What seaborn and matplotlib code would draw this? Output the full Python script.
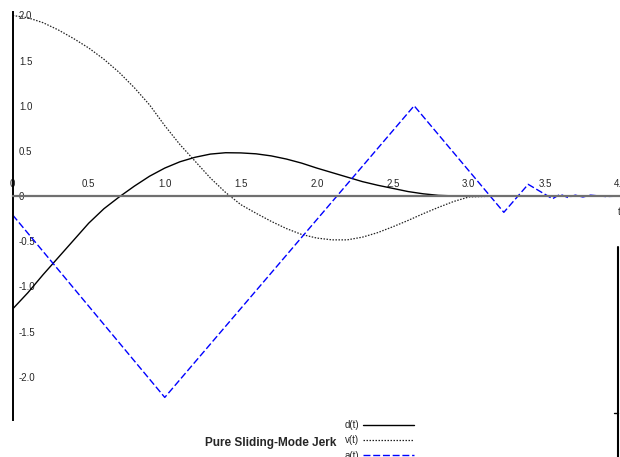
import matplotlib
matplotlib.use("Agg")
import matplotlib.pyplot as plt
import seaborn as sns
from matplotlib.lines import Line2D

# time grid for d(t) and v(t)
t_dv = [0.0, 0.1, 0.2, 0.3, 0.4, 0.5, 0.6, 0.7, 0.8, 0.9,
        1.0, 1.1, 1.2, 1.3, 1.4, 1.5, 1.6, 1.7, 1.8, 1.9,
        2.0, 2.1, 2.2, 2.3, 2.4, 2.5, 2.6, 2.7, 2.8, 2.9,
        3.0, 3.2, 3.5, 4.0]
d_vals = [-1.25, -1.07, -0.87, -0.68, -0.49, -0.30, -0.14, -0.01, 0.11, 0.22,
          0.31, 0.38, 0.43, 0.465, 0.48, 0.478, 0.468, 0.445, 0.41, 0.365,
          0.31, 0.26, 0.21, 0.16, 0.12, 0.085, 0.05, 0.025, 0.008, 0.002,
          0.0, 0.0, 0.0, 0.0]
v_vals = [2.0, 1.975, 1.92, 1.84, 1.745, 1.64, 1.515, 1.37, 1.20, 1.01,
          0.78, 0.57, 0.385, 0.2, 0.04, -0.095, -0.19, -0.28, -0.36, -0.425,
          -0.465, -0.485, -0.485, -0.455, -0.405, -0.34, -0.27, -0.195, -0.125, -0.06,
          -0.01, 0.0, 0.0, 0.0]

# a(t) is piecewise linear (corners)
t_a = [0.0, 1.0, 2.64, 3.23, 3.39, 3.55, 3.6, 3.65, 3.7, 3.75, 3.8, 3.9, 4.0]
a_vals = [-0.21, -2.23, 1.0, -0.18, 0.13, -0.03, 0.02, -0.015, 0.01, -0.01, 0.01, -0.005, 0.0]

x_ticks = [0, 0.5, 1.0, 1.5, 2.0, 2.5, 3.0, 3.5, 4.0]
x_labels = ["0", "0.5", "1.0", "1.5", "2.0", "2.5", "3.0", "3.5", "4.0"]
y_ticks = [2.0, 1.5, 1.0, 0.5, 0, -0.5, -1.0, -1.5, -2.0]
y_labels = ["2.0", "1.5", "1.0", "0.5", "0", "-0.5", "-1.0", "-1.5", "-2.0"]

sns.set_style("white")
plt.rcParams['font.family'] = ['Liberation Sans', 'DejaVu Sans']

fig = plt.figure(figsize=(6.2, 4.57), dpi=100)
ax = fig.add_axes([0.0205, 0.081, 0.981, 0.893])

sns.lineplot(x=t_dv, y=d_vals, color="black", linewidth=1.0, ax=ax, label="d(t)")
sns.lineplot(x=t_dv, y=v_vals, color="#222222", linewidth=0.9, linestyle=(0, (1.2, 1.2)),
             ax=ax, label="v(t)")
sns.lineplot(x=t_a, y=a_vals, color="#0000ff", linewidth=1.0, linestyle=(0, (5, 2)),
             ax=ax, label="a(t)")

ax.set_xlim(0, 4.0)
ax.set_ylim(-2.48, 2.04)

ax.spines['top'].set_visible(False)
ax.spines['right'].set_visible(False)
ax.spines['bottom'].set_position(('data', 0))
ax.spines['bottom'].set_color('#707070')
ax.spines['bottom'].set_linewidth(1.6)
ax.spines['left'].set_color('black')
ax.spines['left'].set_linewidth(1.4)

ax.set_xticks(x_ticks, x_labels)
ax.set_yticks(y_ticks, y_labels)
ax.tick_params(axis='x', direction='in', length=3.5, width=1, color='black',
               labelsize=7, pad=-12.5)
ax.tick_params(axis='y', direction='in', length=3, width=1, color='black',
               labelsize=7, pad=-4.5)
for lab in ax.get_yticklabels():
    lab.set_horizontalalignment('left')

leg = ax.legend(loc='upper left', bbox_to_anchor=(0.556, 0.081),
                bbox_transform=fig.transFigure, frameon=False, fontsize=7,
                markerfirst=False, handlelength=5.2, handletextpad=0.4,
                labelspacing=0.55, borderpad=0, borderaxespad=0)

fig.text(0.436, 1 - 443 / 457, "Pure Sliding-Mode Jerk", ha='center', va='center',
         fontsize=8.5, fontweight='bold')
fig.text(0.9965, 1 - 212 / 457, "t", ha='left', va='center', fontsize=7)

# stray frame edge at the right
fig.add_artist(Line2D([617.5 / 620, 617.5 / 620], [1 - 247 / 457, 0.0],
                      transform=fig.transFigure, color='black', lw=1.5))
fig.add_artist(Line2D([614 / 620, 617.5 / 620], [1 - 413 / 457, 1 - 413 / 457],
                      transform=fig.transFigure, color='black', lw=1))

fig.savefig("out.png", dpi=100)
